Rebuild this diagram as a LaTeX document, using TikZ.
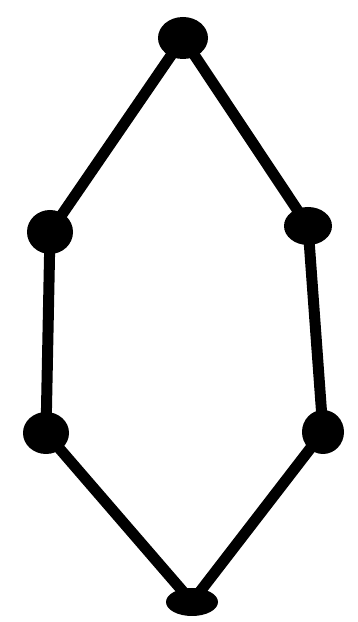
\documentclass[tikz,border=0pt]{standalone}
\usetikzlibrary{shapes.geometric}
\begin{document}
\begin{tikzpicture}[x=1pt,y=1pt,
  dot/.style={ellipse,fill=black,draw=none,inner sep=0pt},
  edge/.style={line width=11pt,line cap=round}]
\useasboundingbox (0,0) rectangle (358,622);
\node[dot,minimum width=50pt,minimum height=42pt] (t) at (183,584) {};
\node[dot,minimum width=46pt,minimum height=44pt] (lu) at (50,390) {};
\node[dot,minimum width=48pt,minimum height=38pt] (ru) at (308,396) {};
\node[dot,minimum width=46pt,minimum height=42pt] (ll) at (46,189) {};
\node[dot,minimum width=42pt,minimum height=44pt] (rl) at (323,190) {};
\node[dot,minimum width=52pt,minimum height=28pt] (b) at (192,20) {};
\draw[edge] (t.center) -- (lu.center) -- (ll.center) -- (b.center) -- (rl.center) -- (ru.center) -- (t.center);
\end{tikzpicture}
\end{document}
